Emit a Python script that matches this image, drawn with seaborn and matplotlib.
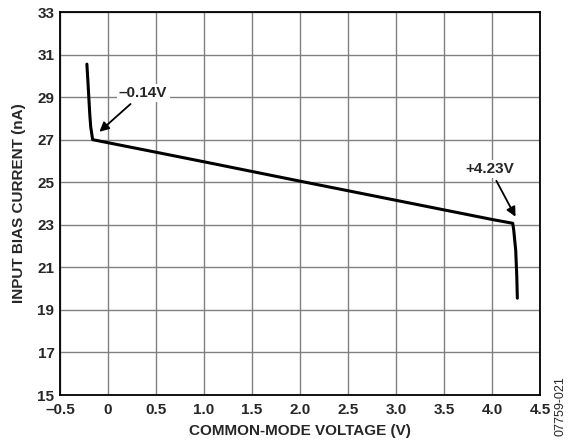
import matplotlib
matplotlib.use("Agg")
import matplotlib.pyplot as plt
import seaborn as sns
import pandas as pd

# curve
voltage = [-0.22, -0.21, -0.20, -0.19, -0.18, -0.16, 0.5, 1.0, 2.0, 3.0, 4.0,
           4.216, 4.226, 4.247, 4.258, 4.264]
current = [30.55, 29.8, 29.0, 28.2, 27.6, 27.0, 26.41, 25.96, 25.05, 24.15, 23.25,
           23.07, 22.76, 21.8, 20.6, 19.55]
xticks = [-0.5, 0, 0.5, 1.0, 1.5, 2.0, 2.5, 3.0, 3.5, 4.0, 4.5]
xticklabels = ["\u20130.5", "0", "0.5", "1.0", "1.5", "2.0", "2.5", "3.0", "3.5", "4.0", "4.5"]
yticks = [15, 17, 19, 21, 23, 25, 27, 29, 31, 33]

df = pd.DataFrame({"v": voltage, "i": current})

sns.set_style("white")
plt.rcParams["font.family"] = ["Liberation Sans", "DejaVu Sans"]

fig = plt.figure(figsize=(5.68, 4.48), dpi=100)
ax = fig.add_axes([60 / 568, 1 - 395 / 448, 480 / 568, 383 / 448])

sns.lineplot(data=df, x="v", y="i", sort=False, color="black", lw=2.2, ax=ax)

ax.set_xlim(-0.5, 4.5)
ax.set_ylim(15, 33)
ax.set_xticks(xticks)
ax.set_xticklabels(xticklabels)
ax.set_yticks(yticks)
ax.tick_params(axis="x", length=0, labelsize=11, pad=6)
ax.tick_params(axis="y", length=0, labelsize=11, pad=4)
for lab in ax.get_xticklabels() + ax.get_yticklabels():
    lab.set_fontweight("bold")
ax.grid(True, color="#808080", lw=1.0)
for s in ax.spines.values():
    s.set_color("black")
    s.set_linewidth(1.3)

ax.set_xlabel("COMMON-MODE VOLTAGE (V)", fontsize=11, fontweight="bold", labelpad=5)
ax.set_ylabel("INPUT BIAS CURRENT (nA)", fontsize=11, fontweight="bold", labelpad=8)

ax.annotate("\u20130.14V", xy=(-0.09, 27.37), xytext=(0.365, 29.2),
            ha="center", va="center", fontsize=11, fontweight="bold",
            bbox=dict(boxstyle="square,pad=0.15", fc="white", ec="none"),
            arrowprops=dict(arrowstyle="-|>", color="black", lw=1.3,
                            mutation_scale=14, shrinkA=2, shrinkB=0))
ax.annotate("+4.23V", xy=(4.245, 23.38), xytext=(3.98, 25.62),
            ha="center", va="center", fontsize=11, fontweight="bold",
            bbox=dict(boxstyle="square,pad=0.15", fc="white", ec="none"),
            arrowprops=dict(arrowstyle="-|>", color="black", lw=1.3,
                            mutation_scale=14, shrinkA=2, shrinkB=0))

fig.text(0.986, 0.094, "07759-021", rotation=90, fontsize=9, ha="center", va="center")

fig.savefig("out.png", dpi=100)
